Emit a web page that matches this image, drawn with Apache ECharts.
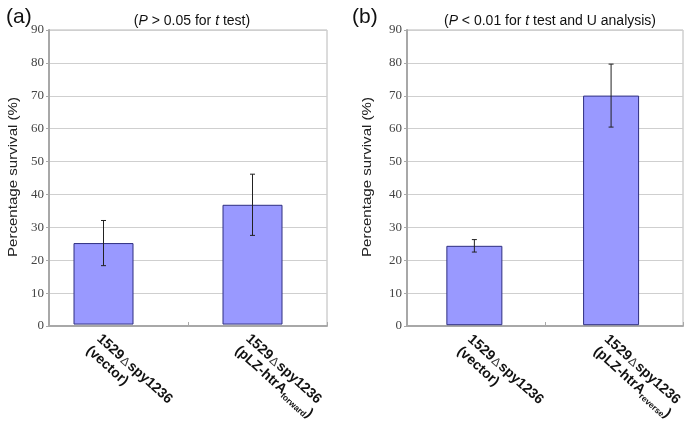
<!DOCTYPE html>
<html><head><meta charset="utf-8">
<script src="https://cdn.jsdelivr.net/npm/echarts@6/dist/echarts.min.js"></script>
<style>html,body{margin:0;padding:0;background:#fff}#c{width:685px;height:424px}</style>
</head><body><div id="c"></div>
<script>
// ---- data ----
const plasmidsA = ['vector', 'pLZ-htrA'];
const subscriptsA = ['', 'forward'];
const plasmidsB = ['vector', 'pLZ-htrA'];
const subscriptsB = ['', 'reverse'];
const valuesA = [24.9, 36.6];
const errorsA = [6.9, 9.35];
const valuesB = [24.2, 70.0];
const errorsB = [1.9, 9.6];
const yMin = 0, yMax = 90, yStep = 10;
const yName = 'Percentage survival (%)';
const panelLabels = ['(a)', '(b)'];

// ---- helpers ----
const catsA = plasmidsA.map((p, i) => p + '|' + subscriptsA[i]);
const catsB = plasmidsB.map((p, i) => p + '|' + subscriptsB[i]);
function fmt(v) {
  const [p, s] = v.split('|');
  const first = '{b|1529}{d|Δ}{b|spy1236}';
  const second = s ? '{b|(' + p + '}{s|' + s + '}{b|)}' : '{b|(' + p + ')}';
  return first + '\n' + second;
}
const rich = {
  b: {fontFamily: 'Liberation Sans', fontWeight: 'bold', fontSize: 14, color: '#111', lineHeight: 16, verticalAlign: 'top'},
  d: {fontFamily: 'Liberation Sans', fontWeight: 'normal', fontSize: 12, color: '#333', lineHeight: 16, verticalAlign: 'top', padding: [2, 1, 0, 1]},
  s: {fontFamily: 'Liberation Sans', fontWeight: 'bold', fontSize: 8.5, color: '#111', lineHeight: 9, verticalAlign: 'bottom', padding: [10, 0, 0, 0]}
};
const gray = '#a8a8a8';
function frameY(gi) {
  return {
    type: 'value', gridIndex: gi, min: yMin, max: yMax, interval: yStep,
    axisLine: {show: true, lineStyle: {color: gray, width: 2}},
    axisTick: {show: true, inside: false, length: 3, lineStyle: {color: gray}},
    axisLabel: {fontFamily: 'Liberation Serif', fontSize: 13, color: '#444', margin: 5},
    splitLine: {show: true, lineStyle: {color: '#cfcfcf', width: 1}}
  };
}
function hiddenY(gi) {
  return {type: 'value', gridIndex: gi, min: yMin, max: yMax, show: false, splitLine: {show: false}};
}
function frameX(gi) {
  return {type: 'category', gridIndex: gi, data: ['', ''], boundaryGap: true,
    axisLine: {show: true, lineStyle: {color: gray, width: 2}},
    axisTick: {show: true, inside: true, length: 4, lineStyle: {color: gray}},
    axisLabel: {show: false}};
}
function labelX(gi, cats) {
  return {type: 'category', gridIndex: gi, data: cats,
    axisLine: {show: false}, axisTick: {show: false},
    axisLabel: {rotate: -42, margin: 7, formatter: fmt, rich: rich, align: 'left', verticalAlign: 'top'}};
}
function errSeries(xi, yi, vals, errs) {
  return {
    type: 'custom', xAxisIndex: xi, yAxisIndex: yi, z: 5,
    data: vals.map((v, i) => [i, v, errs[i]]),
    encode: {x: 0, y: 1},
    renderItem: function (params, api) {
      const x = api.value(0), v = api.value(1), e = api.value(2);
      const t = api.coord([x, v + e]);
      const b = api.coord([x, v - e]);
      const w = 2.5;
      const st = {stroke: '#222', lineWidth: 1};
      return {type: 'group', children: [
        {type: 'line', shape: {x1: t[0], y1: t[1], x2: b[0], y2: b[1]}, style: st},
        {type: 'line', shape: {x1: t[0] - w, y1: t[1], x2: t[0] + w, y2: t[1]}, style: st},
        {type: 'line', shape: {x1: b[0] - w, y1: b[1], x2: b[0] + w, y2: b[1]}, style: st}
      ]};
    }
  };
}
const barStyle = {color: '#9999ff', borderColor: '#2e2e80', borderWidth: 1};
const titleRich = {
  n: {fontFamily: 'Liberation Sans', fontSize: 14, fontWeight: 'normal', color: '#111'},
  i: {fontFamily: 'Liberation Sans', fontSize: 14, fontWeight: 'normal', fontStyle: 'italic', color: '#111'}
};
function yNameText(x) {
  return {type: 'text', x: x, y: 177, rotation: Math.PI / 2, scaleX: 1.16, z: 10,
    style: {text: yName, font: '13px "Liberation Sans"', fill: '#222', textAlign: 'center', textVerticalAlign: 'middle'}};
}

const chart = echarts.init(document.getElementById('c'), null, {renderer: 'canvas'});
chart.setOption({
  animation: false,
  backgroundColor: '#fff',
  title: [
    {text: panelLabels[0], left: 1, top: 2, textStyle: {fontFamily: 'Liberation Sans', fontSize: 21, fontWeight: 'normal', color: '#111'}},
    {text: panelLabels[1], left: 347, top: 2, textStyle: {fontFamily: 'Liberation Sans', fontSize: 21, fontWeight: 'normal', color: '#111'}},
    {text: '{n|(}{i|P}{n| > 0.05 for }{i|t}{n| test)}', left: 187, top: 9, textAlign: 'center', textStyle: {fontWeight: 'normal', rich: titleRich}},
    {text: '{n|(}{i|P}{n| < 0.01 for }{i|t}{n| test and U analysis)}', left: 545, top: 9, textAlign: 'center', textStyle: {fontWeight: 'normal', rich: titleRich}}
  ],
  graphic: [yNameText(13), yNameText(367)],
  grid: [
    {left: 49, top: 30, width: 278, height: 296, show: true, borderColor: '#b8b8b8', borderWidth: 1, backgroundColor: '#fff'},
    {left: 29, top: 30, width: 298, height: 296},
    {left: 407, top: 30, width: 276, height: 296, show: true, borderColor: '#b8b8b8', borderWidth: 1, backgroundColor: '#fff'},
    {left: 406, top: 30, width: 280, height: 296}
  ],
  xAxis: [frameX(0), labelX(1, catsA), frameX(2), labelX(3, catsB)],
  yAxis: [frameY(0), hiddenY(1), frameY(2), hiddenY(3)],
  series: [
    {type: 'bar', xAxisIndex: 1, yAxisIndex: 1, data: valuesA, barWidth: 60, itemStyle: barStyle},
    errSeries(1, 1, valuesA, errorsA),
    {type: 'bar', xAxisIndex: 3, yAxisIndex: 3, data: valuesB, barWidth: 56, itemStyle: barStyle},
    errSeries(3, 3, valuesB, errorsB)
  ]
});
</script>
</body></html>
